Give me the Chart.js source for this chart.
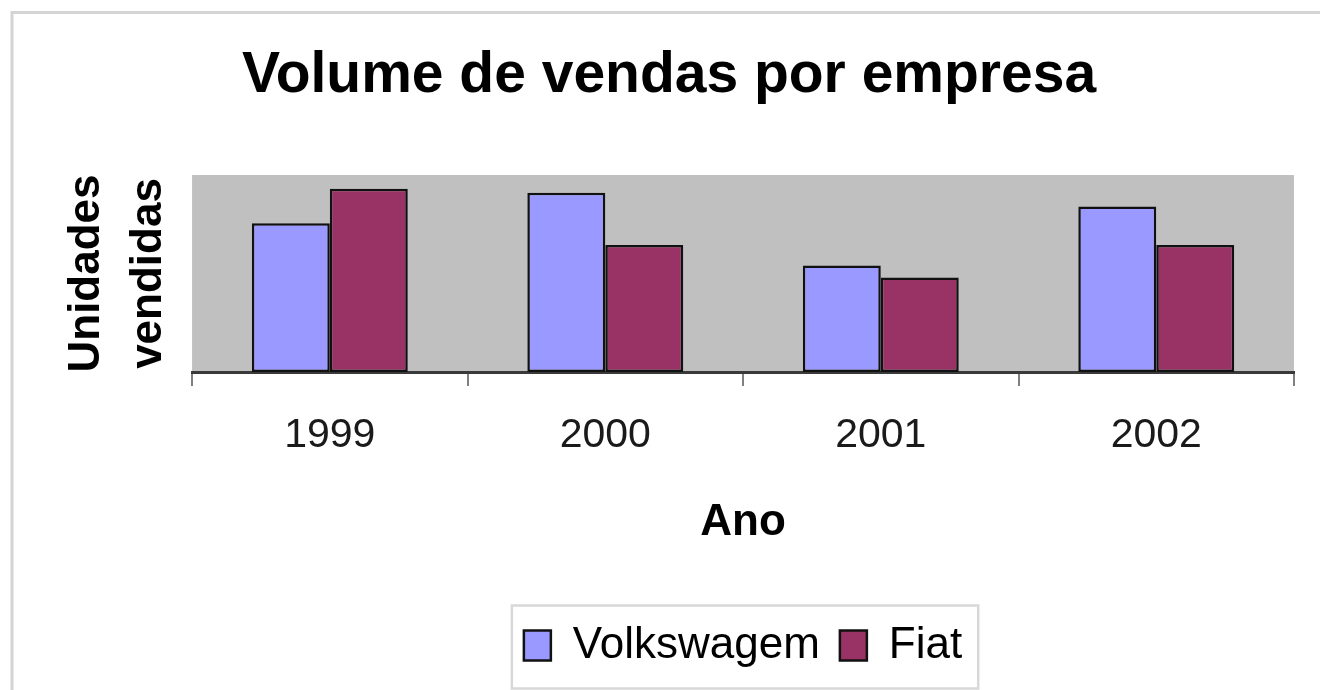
<!DOCTYPE html>
<html>
<head>
<meta charset="utf-8">
<script src="https://cdn.jsdelivr.net/npm/chart.js@4/dist/chart.umd.min.js"></script>
<style>
  html, body { margin: 0; padding: 0; background: #ffffff; }
  #wrap { width: 1320px; height: 690px; }
</style>
</head>
<body>
<div id="wrap"><canvas id="c" width="1320" height="690"></canvas></div>
<script>
const categories = ['1999', '2000', '2001', '2002'];
const volkswagem = [151, 182, 108, 168];
const fiat = [186, 129, 96, 129];
const seriesNames = ['Volkswagem', 'Fiat'];
const chartTitle = 'Volume de vendas por empresa';
const xTitle = 'Ano';
const yTitle = ['Unidades', 'vendidas'];

const FONT = "'Liberation Sans', Arial, sans-serif";

const decor = {
  id: 'decor',
  afterLayout(chart) {
    const ca = chart.chartArea;
    if (chart.legend) {
      chart.legend.left = ca.left;
      chart.legend.right = ca.right;
    }
    if (chart.titleBlock) {
      chart.titleBlock.left = 20;
      chart.titleBlock.right = 1318;
    }
  },
  beforeDraw(chart) {
    const ctx = chart.ctx;
    const ca = chart.chartArea;
    ctx.save();
    ctx.fillStyle = '#ffffff';
    ctx.fillRect(0, 0, chart.width, chart.height);
    ctx.strokeStyle = '#d4d4d4';
    ctx.lineWidth = 3;
    ctx.strokeRect(12, 12.5, 1330, 700);
    ctx.fillStyle = '#c0c0c0';
    ctx.fillRect(ca.left, ca.top, ca.right - ca.left, ca.bottom - ca.top);
    ctx.restore();
  },
  afterDraw(chart) {
    const lg = chart.legend;
    if (!lg || !lg.legendHitBoxes || !lg.legendHitBoxes.length) return;
    const hb = lg.legendHitBoxes;
    const first = hb[0], last = hb[hb.length - 1];
    const cy = first.top + first.height / 2;
    const ctx = chart.ctx;
    ctx.save();
    ctx.strokeStyle = '#d8d8d8';
    ctx.lineWidth = 2.5;
    ctx.strokeRect(first.left - 12, cy - 40, (last.left + last.width + 16) - (first.left - 12), 83);
    ctx.restore();
  }
};

new Chart(document.getElementById('c'), {
  type: 'bar',
  data: {
    labels: categories,
    datasets: [
      {
        label: seriesNames[0],
        data: volkswagem,
        backgroundColor: '#9999ff',
        borderColor: '#111111',
        borderWidth: 2.5,
        borderSkipped: false,
        categoryPercentage: 0.566,
        barPercentage: 1.0
      },
      {
        label: seriesNames[1],
        data: fiat,
        backgroundColor: '#993366',
        borderColor: '#111111',
        borderWidth: 2.5,
        borderSkipped: false,
        categoryPercentage: 0.566,
        barPercentage: 1.0
      }
    ]
  },
  options: {
    responsive: false,
    animation: false,
    devicePixelRatio: 1,
    layout: { padding: { top: 12, left: 20, right: 26, bottom: 12.5 } },
    plugins: {
      title: {
        display: true,
        text: chartTitle,
        color: '#000000',
        font: { family: FONT, size: 57, weight: 'bold', lineHeight: 1.2 },
        padding: { top: 30, bottom: 64.6 }
      },
      legend: {
        display: true,
        position: 'bottom',
        align: 'center',
        labels: {
          color: '#000000',
          font: { family: FONT, size: 44 },
          boxWidth: 27,
          boxHeight: 30,
          padding: 20
        }
      },
      tooltip: { enabled: false }
    },
    scales: {
      x: {
        offset: true,
        grid: {
          display: true,
          drawOnChartArea: false,
          drawTicks: true,
          tickLength: 14,
          color: '#808080',
          lineWidth: 2,
          offset: true
        },
        border: { display: true, color: '#3a3a3a', width: 3 },
        ticks: {
          color: '#1a1a1a',
          padding: 25,
          maxRotation: 0,
          font: { family: FONT, size: 41, lineHeight: 1.2 }
        },
        title: {
          display: true,
          text: xTitle,
          color: '#000000',
          font: { family: FONT, size: 44, weight: 'bold', lineHeight: 1.2 },
          padding: { top: 11, bottom: 54.5 }
        }
      },
      y: {
        min: 0,
        max: 200,
        grid: { display: false, drawTicks: false },
        border: { display: false },
        ticks: { display: false },
        title: {
          display: true,
          text: yTitle,
          color: '#000000',
          font: { family: FONT, size: 44, weight: 'bold', lineHeight: 1.41 },
          padding: { top: 36, bottom: 12 }
        }
      }
    }
  },
  plugins: [decor]
});
</script>
</body>
</html>
